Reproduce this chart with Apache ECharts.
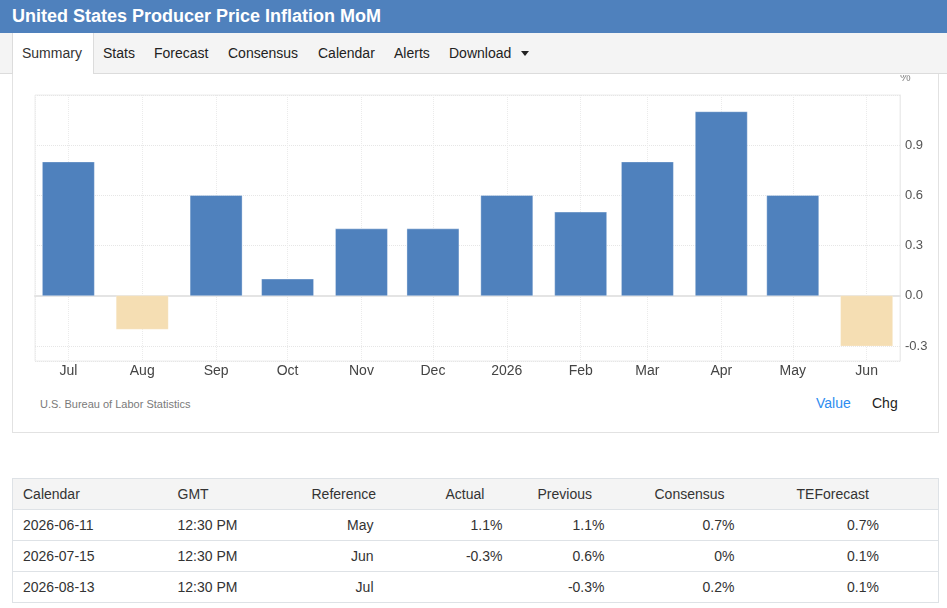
<!DOCTYPE html>
<html>
<head>
<meta charset="utf-8">
<title>United States Producer Price Inflation MoM</title>
<script src="https://cdn.jsdelivr.net/npm/echarts@6/dist/echarts.min.js"></script>
<style>
  body { margin: 0; width: 947px; height: 608px; overflow: hidden; background: #fff; font-family: Arial, "Liberation Sans", sans-serif; position: relative; }
  .topbar { position: absolute; left: 0; top: 0; width: 947px; height: 33px; background: #4f81bd; }
  .topbar h1 { margin: 0; position: absolute; left: 12px; top: 6px; font-size: 18px; line-height: 20px; color: #fff; font-weight: bold; }
  .nav { position: absolute; left: 0; top: 33px; width: 947px; height: 40px; background: #f4f4f4; border-bottom: 1px solid #dcdcdc; }
  .nav span { position: absolute; top: 12px; font-size: 14px; line-height: 16px; color: #222; }
  .nav .active { position: absolute; left: 12px; top: 0; width: 80px; height: 41px; background: #fff; border-left: 1px solid #dcdcdc; border-right: 1px solid #dcdcdc; }
  .caret { position: absolute; left: 521px; top: 51px; width: 0; height: 0; border-left: 4px solid transparent; border-right: 4px solid transparent; border-top: 5px solid #222; }
  .panel { position: absolute; left: 12px; top: 74px; width: 925px; height: 358px; border: 1px solid #e2e2e2; border-top: none; }
  #chart { position: absolute; left: 13px; top: 75px; width: 925px; height: 310px; }
  .src { position: absolute; left: 40px; top: 398px; font-size: 11px; color: #7a7a7a; }
  .sw { position: absolute; top: 395px; font-size: 14px; }
  table { position: absolute; left: 12px; top: 478px; width: 926px; border-collapse: collapse; table-layout: fixed; font-size: 14px; color: #333; }
  th, td { height: 30px; padding: 0; border-top: 1px solid #dee2e6; border-bottom: 1px solid #dee2e6; font-weight: normal; white-space: nowrap; }
  th { background: #f4f4f4; text-align: left; }
  td { text-align: right; }
  tr > :first-child { border-left: 1px solid #dee2e6; }
  tr > :last-child { border-right: 1px solid #dee2e6; }
</style>
</head>
<body>
<div class="topbar"><h1>United States Producer Price Inflation MoM</h1></div>
<div class="nav">
  <div class="active"></div>
  <span style="left:22px;color:#333">Summary</span>
  <span style="left:103px">Stats</span>
  <span style="left:154px">Forecast</span>
  <span style="left:228px">Consensus</span>
  <span style="left:318px">Calendar</span>
  <span style="left:394px">Alerts</span>
  <span style="left:449px">Download</span>
</div>
<div class="caret"></div>
<div class="panel"></div>
<div id="chart"></div>
<div class="src">U.S. Bureau of Labor Statistics</div>
<div class="sw" style="left:816px;color:#2d8cf0">Value</div>
<div class="sw" style="left:872px;color:#222">Chg</div>

<table id="cal"></table>

<script>
// monthly PPI change, %
var months = ['2025-07-01', '2025-08-01', '2025-09-01', '2025-10-01', '2025-11-01', '2025-12-01',
              '2026-01-01', '2026-02-01', '2026-03-01', '2026-04-01', '2026-05-01', '2026-06-01'];
var tickLabels = ['Jul', 'Aug', 'Sep', 'Oct', 'Nov', 'Dec', '2026', 'Feb', 'Mar', 'Apr', 'May', 'Jun'];
var values = [0.8, -0.2, 0.6, 0.1, 0.4, 0.4, 0.6, 0.5, 0.8, 1.1, 0.6, -0.3];

// calendar table
var calHeader = ['Calendar', 'GMT', 'Reference', 'Actual', 'Previous', 'Consensus', 'TEForecast'];
var calDates = ['2026-06-11', '2026-07-15', '2026-08-13'];
var calTimes = ['12:30 PM', '12:30 PM', '12:30 PM'];
var calRef = ['May', 'Jun', 'Jul'];
var calActual = ['1.1%', '-0.3%', ''];
var calPrevious = ['1.1%', '0.6%', '-0.3%'];
var calConsensus = ['0.7%', '0%', '0.2%'];
var calForecast = ['0.7%', '0.1%', '0.1%'];

var colW = [156, 132, 90, 122, 102, 130, 194];
var thPad = [10, 9, 11, 55, 25, 40, 52];
var tdPadR = [0, 0, 17, 10, 10, 10, 59];

function buildTable(){
    var t = document.getElementById('cal');
    var html = '<colgroup>';
    colW.forEach(function(w){ html += '<col style="width:' + w + 'px">'; });
    html += '</colgroup><tr>';
    calHeader.forEach(function(h, i){
        html += '<th style="padding-left:' + thPad[i] + 'px">' + h + '</th>';
    });
    html += '</tr>';
    for (var r = 0; r < calDates.length; r++) {
        var cells = [calDates[r], calTimes[r], calRef[r], calActual[r], calPrevious[r], calConsensus[r], calForecast[r]];
        html += '<tr>';
        cells.forEach(function(c, i){
            if (i < 2) html += '<td style="text-align:left;padding-left:' + thPad[i] + 'px">' + c + '</td>';
            else html += '<td style="padding-right:' + tdPadR[i] + 'px">' + c + '</td>';
        });
        html += '</tr>';
    }
    t.innerHTML = html;
}
buildTable();

function monthLabel(val){
    var d = new Date(val);
    for (var i = 0; i < months.length; i++) {
        var m = new Date(months[i]);
        if (m.getFullYear() === d.getFullYear() && m.getMonth() === d.getMonth()) return tickLabels[i];
    }
    return '';
}

var BAR_W = 52;
// bars drawn as rects through the axis scales (bar series would pad a time axis)
function renderBar(params, api){
    var top = api.coord([api.value(0), api.value(1)]);
    var base = api.coord([api.value(0), 0]);
    var neg = api.value(1) < 0;
    return {
        type: 'rect',
        shape: {
            x: top[0] - BAR_W / 2,
            y: Math.min(top[1], base[1]),
            width: BAR_W,
            height: Math.abs(base[1] - top[1])
        },
        style: {
            fill: neg ? '#f5deb3' : '#4f81bd',
            stroke: neg ? 'rgba(255,255,255,0.2)' : 'rgba(255,255,255,0.35)',
            lineWidth: 1
        }
    };
}

var myChart = echarts.init(document.getElementById('chart'));
var option = {
    animation: false,
    grid: { left: 22, right: 38, top: 20, height: 266, show: true, borderColor: '#ececec', borderWidth: 1, outerBoundsMode: 'none', containLabel: false },
    xAxis: {
        type: 'time',
        min: '2025-06-17',
        max: '2026-06-15',
        splitNumber: 12,
        axisLine: { lineStyle: { color: '#e4e4e4', width: 2 } },
        axisTick: { show: false },
        axisLabel: {
            color: '#444', fontSize: 14, margin: 3,
            fontFamily: 'Arial',
            showMinLabel: false, showMaxLabel: false,
            formatter: monthLabel
        },
        splitLine: { show: true, lineStyle: { color: '#ebebeb', type: 'dotted' } }
    },
    yAxis: {
        type: 'value',
        position: 'right',
        min: -0.39,
        max: 1.2,
        splitNumber: 5,
        name: '%',
        nameLocation: 'end',
        nameGap: 11,
        nameTextStyle: { color: '#888', fontSize: 12, align: 'left' },
        axisLine: { show: true, lineStyle: { color: '#ececec' } },
        axisTick: { show: false },
        axisLabel: {
            color: '#555', fontSize: 13, margin: 5, fontFamily: 'Arial',
            padding: [0, 0, 5, 0],
            showMinLabel: false, showMaxLabel: false,
            formatter: function(v){ return v.toFixed(1); }
        },
        splitLine: { show: true, lineStyle: { color: '#e6e6e6', type: 'dotted' } }
    },
    series: [{
        type: 'custom',
        renderItem: renderBar,
        encode: { x: 0, y: 1 },
        data: months.map(function(m, i){ return [m, values[i]]; })
    }]
};
myChart.setOption(option);
</script>
</body>
</html>
